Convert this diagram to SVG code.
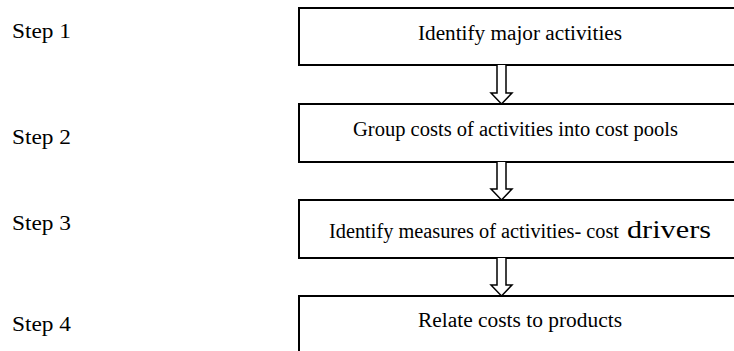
<svg xmlns="http://www.w3.org/2000/svg" width="734" height="351" viewBox="0 0 734 351">
<style>
.box{fill:#fff;stroke:#000;stroke-width:2}
.lbl{font-family:"Liberation Serif","Times New Roman",serif;font-size:22px;fill:#000}
.txt{font-family:"Liberation Serif","Times New Roman",serif;font-size:20px;fill:#000}
.arr{fill:#fff;stroke:#000;stroke-width:1.5;stroke-linejoin:miter}
</style>
<rect width="734" height="351" fill="#fff"/>
<g id="step1"><text class="lbl" x="12" y="38" textLength="59" lengthAdjust="spacingAndGlyphs">Step 1</text></g>
<g id="step2"><text class="lbl" x="12" y="144" textLength="59" lengthAdjust="spacingAndGlyphs">Step 2</text></g>
<g id="step3"><text class="lbl" x="12" y="230" textLength="59" lengthAdjust="spacingAndGlyphs">Step 3</text></g>
<g id="step4"><text class="lbl" x="12" y="331" textLength="59" lengthAdjust="spacingAndGlyphs">Step 4</text></g>
<g id="box1"><rect class="box" x="299" y="8" width="445" height="57"/><text class="txt" x="418" y="40" textLength="204" lengthAdjust="spacingAndGlyphs">Identify major activities</text></g>
<g id="box2"><rect class="box" x="299" y="104" width="445" height="58"/><text class="txt" x="353" y="136" textLength="325" lengthAdjust="spacingAndGlyphs">Group costs of activities into cost pools</text></g>
<g id="box3"><rect class="box" x="299" y="200" width="445" height="58"/><text class="txt" x="329" y="238"><tspan textLength="290" lengthAdjust="spacingAndGlyphs">Identify measures of activities- cost</tspan><tspan x="627" font-size="26" textLength="84" lengthAdjust="spacingAndGlyphs">drivers</tspan></text></g>
<g id="box4"><rect class="box" x="299" y="296" width="445" height="70"/><text class="txt" x="418" y="327" textLength="204" lengthAdjust="spacingAndGlyphs">Relate costs to products</text></g>
<g id="connectors">
<path class="arr" d="M497 65 V93 H491 L501.5 104 L512 93 H506 V65"/>
<path class="arr" d="M497 162 V189 H491 L501.5 200 L512 189 H506 V162"/>
<path class="arr" d="M497 258 V285 H491 L501.5 296 L512 285 H506 V258"/>
</g>
</svg>
